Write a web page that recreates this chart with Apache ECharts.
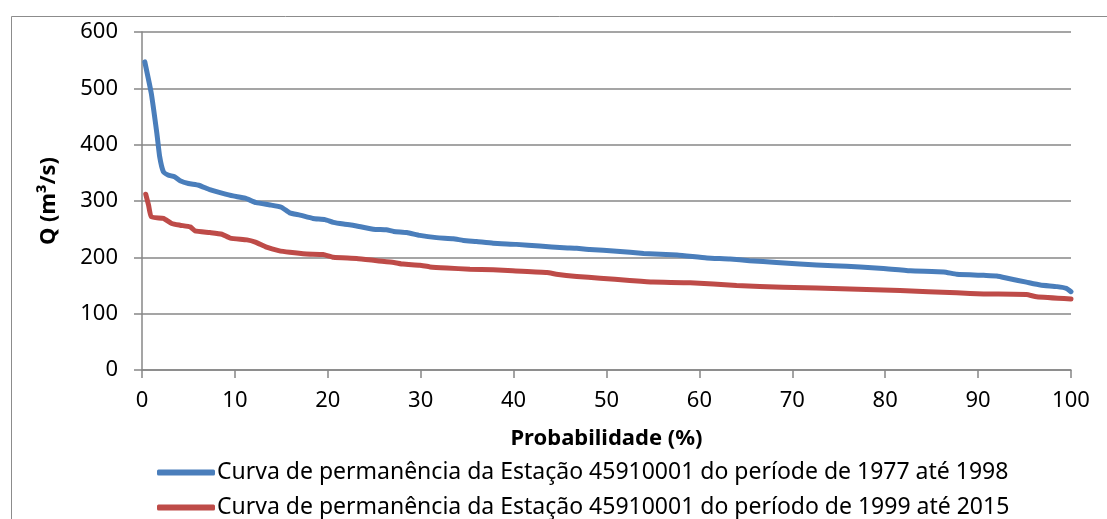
<!DOCTYPE html>
<html>
<head>
<meta charset="utf-8">
<script src="https://cdn.jsdelivr.net/npm/echarts@6/dist/echarts.min.js"></script>
<style>
html,body{margin:0;padding:0;background:#fff;}
#c{width:1107px;height:519px;}
</style>
</head>
<body>
<div id="c"></div>
<script>
var seriesNames = [
  'Curva de permanência da Estação 45910001 do període de 1977 até 1998',
  'Curva de permanência da Estação 45910001 do período de 1999 até 2015'
];
var probA = [0.3, 1.0, 1.6, 1.9, 2.3, 2.8, 3.5, 4.1, 5.0, 6.1, 7.3, 8.6, 9.8, 11.1, 12.3, 13.8, 15.0, 15.9, 17.0, 18.4, 19.7, 20.6, 21.7, 22.7, 24.9, 26.3, 27.1, 28.5, 29.9, 31.7, 33.5, 34.6, 36.0, 37.8, 40.3, 42.8, 45.4, 46.8, 48.2, 51.1, 54.0, 57.6, 60.8, 63.3, 65.4, 68.3, 70.8, 74.4, 77.3, 79.8, 82.7, 86.3, 87.7, 90.6, 92.0, 93.4, 95.2, 96.7, 98.5, 99.5, 100];
var qA = [547, 491, 420, 379, 352, 346, 343, 336, 331, 328, 320, 314, 309, 305, 297, 293, 289, 279, 275, 269, 267, 262, 259, 257, 250, 249, 246, 244, 239, 235, 233, 230, 228, 225, 223, 220, 217, 216, 214, 211, 207, 204, 199, 197, 194, 191, 188, 185, 183, 180, 176, 174, 170, 168, 167, 162, 156, 151, 148, 145, 139];
var probB = [0.4, 0.7, 1.0, 2.3, 3.2, 4.1, 5.2, 5.7, 7.3, 8.6, 9.5, 11.3, 12.2, 13.4, 14.7, 15.9, 17.7, 19.5, 20.6, 23.1, 25.3, 27.1, 28.1, 29.9, 31.0, 32.8, 35.3, 37.8, 39.9, 43.6, 44.6, 46.8, 49.3, 52.5, 55.0, 59.0, 64.0, 69.0, 76.2, 81.6, 87.7, 90.6, 95.2, 96.3, 100];
var qB = [312, 293, 272, 269, 260, 257, 254, 247, 244, 241, 234, 231, 227, 218, 212, 209, 206, 205, 200, 198, 194, 191, 188, 186, 183, 181, 179, 178, 176, 173, 170, 166, 163, 159, 156, 155, 150, 147, 144, 141, 137, 135, 134, 130, 126];
var xTicks = [0, 10, 20, 30, 40, 50, 60, 70, 80, 90, 100];
var yTicks = [0, 100, 200, 300, 400, 500, 600];

function pairs(xs, ys){ return xs.map(function(x,i){ return [x, ys[i]]; }); }

var FONT = 'Noto Sans';
var GRAY = '#878787';
function legendFor(name, top){
  return {
    left: 152, top: top,
    icon: 'roundRect', itemWidth: 58, itemHeight: 6,
    textStyle: {fontFamily: FONT, fontSize: 23, color: '#000', padding: [0,0,0,-3]},
    data: [name]
  };
}
var chart = echarts.init(document.getElementById('c'), null, {renderer:'canvas'});
chart.setOption({
  animation: false,
  backgroundColor: '#fff',
  graphic: [{
    type: 'rect', left: 9, top: 14, silent: true,
    shape: {width: 1200, height: 600},
    style: {fill: 'none', stroke: '#8c8c8c', lineWidth: 1}
  }],
  grid: {left: 142, right: 36, top: 32, bottom: 149, containLabel: false},
  legend: [legendFor(seriesNames[0], 456), legendFor(seriesNames[1], 491)],
  xAxis: {
    type: 'value', min: xTicks[0], max: xTicks[xTicks.length-1], interval: 10,
    name: 'Probabilidade (%)', nameLocation: 'middle', nameGap: 58,
    nameTextStyle: {fontFamily: FONT, fontSize: 22, fontWeight: 'bold', color: '#000'},
    axisLine: {show: true, lineStyle: {color: GRAY, width: 1.5}},
    axisTick: {show: true, inside: false, length: 8, lineStyle: {color: GRAY, width: 1.5}},
    axisLabel: {fontFamily: FONT, fontSize: 22, color: '#000', margin: 20},
    splitLine: {show: false}
  },
  yAxis: {
    type: 'value', min: yTicks[0], max: yTicks[yTicks.length-1], interval: 100,
    name: 'Q (m³/s)', nameLocation: 'middle', nameGap: 82,
    nameTextStyle: {fontFamily: FONT, fontSize: 22, fontWeight: 'bold', color: '#000'},
    axisLine: {show: true, lineStyle: {color: GRAY, width: 1.5}},
    axisTick: {show: true, inside: false, length: 8, lineStyle: {color: GRAY, width: 1.5}},
    axisLabel: {fontFamily: FONT, fontSize: 22, color: '#000', margin: 24},
    splitLine: {show: true, lineStyle: {color: GRAY, width: 1.5}}
  },
  series: [{
    name: seriesNames[0], type: 'line', showSymbol: false, symbol: 'none',
    data: pairs(probA, qA), smooth: 0.15,
    itemStyle: {color: '#4a7ebb'},
    lineStyle: {color: '#4a7ebb', width: 5, cap: 'round', join: 'round'}
  }, {
    name: seriesNames[1], type: 'line', showSymbol: false, symbol: 'none',
    data: pairs(probB, qB), smooth: 0.15,
    itemStyle: {color: '#be4b48'},
    lineStyle: {color: '#be4b48', width: 5, cap: 'round', join: 'round'}
  }]
});
</script>
</body>
</html>
